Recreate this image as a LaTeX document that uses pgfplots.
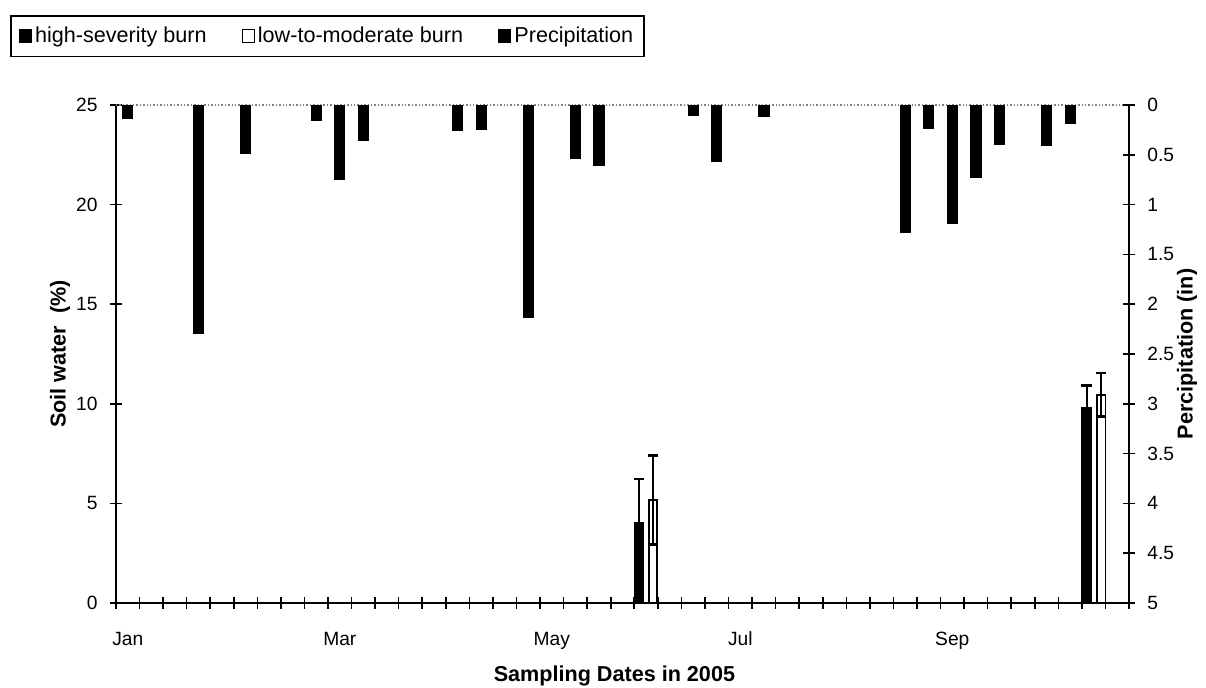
\documentclass[border=0pt]{standalone}
\usepackage{pgfplots}
\pgfplotsset{compat=1.18}
\usepackage{fontspec}
\setmainfont{Liberation Sans}
\begin{document}
\begin{tikzpicture}
\pgfplotsset{
  every tick label/.append style={font=\fontsize{9.6}{11}\selectfont},
  /pgf/number format/assume math mode=true,
}
\begin{axis}[
  name=main,
  scale only axis, width=506.5pt, height=249pt,
  xmin=0, xmax=43, ymin=0, ymax=25,
  axis x line=bottom, axis y line=left,
  axis line style={-, line width=0.9pt, black},
  tick align=center, major tick length=6pt, minor tick length=6pt,
  tick style={line width=0.8pt, black},
  xtick={0.5,9.5,18.5,26.5,35.5},
  xticklabels={Jan,Mar,May,Jul,Sep},
  major x tick style={draw=none},
  minor xtick={0,1,...,43},
  xticklabel style={yshift=-8pt},
  ytick={0,5,...,25},
  yticklabel style={inner xsep=0pt, xshift=-6pt},
  every axis x label/.style={at={(axis description cs:0.492,0)}, anchor=center, yshift=-36.5pt, font=\bfseries\fontsize{10.8}{12}\selectfont},
  every axis y label/.style={at={(axis description cs:-0.0553,0.5)}, anchor=center, rotate=90, font=\bfseries\fontsize{10.8}{12}\selectfont},
  xlabel={Sampling Dates in 2005},
  ylabel={Soil water \ (\%)},
  clip=false,
  legend columns=3,
  legend image code/.code={\draw[#1, line width=0.6pt] (0pt,-3.2pt) rectangle (6pt,3.2pt);},
  legend style={at={(axis description cs:-0.1046,1.1807)}, anchor=north west, draw=black, line width=0.8pt,
    font=\fontsize{10.8}{12}\selectfont, inner ysep=3.5pt, inner xsep=4pt,
    /tikz/every even column/.append style={column sep=16pt},
    nodes={inner xsep=1.5pt}},
]
\coordinate (bl) at (rel axis cs:0,0);
\coordinate (tr) at (rel axis cs:1,1);
\draw[gray, densely dotted, line width=0.7pt] (rel axis cs:0,1) -- (rel axis cs:1,1);
\addplot[ybar, bar width=0.4, bar shift=0pt, fill=black, draw=black,
  error bars/.cd, y dir=both, y explicit,
  error bar style={line width=1pt, black},
  error mark options={rotate=90, line width=1.4pt, mark size=2.6pt, black}]
  coordinates {(22.2,4.03) +- (0,2.19) (41.2,9.8) +- (0,1.1)};
\addlegendentry{high-severity burn}
\addplot[ybar, bar width=0.36, bar shift=0pt, fill=white, draw=black, line width=0.9pt,
  error bars/.cd, y dir=both, y explicit,
  error bar style={line width=1pt, black},
  error mark options={rotate=90, line width=1.4pt, mark size=2.6pt, black}]
  coordinates {(22.8,5.17) +- (0,2.23) (41.82,10.45) +- (0,1.1)};
\addlegendentry{low-to-moderate burn}
\addlegendimage{fill=black, draw=black}
\addlegendentry{Precipitation}
\end{axis}
\begin{axis}[
  scale only axis, width=506.5pt, height=249pt,
  xmin=0, xmax=43, ymin=0, ymax=5, y dir=reverse,
  axis x line=none, axis y line*=right,
  axis line style={-, line width=0.9pt, black},
  tick align=center, major tick length=6pt,
  tick style={line width=0.8pt, black},
  ytick={0,0.5,1,1.5,2,2.5,3,3.5,4,4.5,5},
  yticklabels={0,0.5,1,1.5,2,2.5,3,3.5,4,4.5,5},
  yticklabel style={inner xsep=0pt, xshift=6pt},
  every axis y label/.style={at={(axis description cs:1.0573,0.5)}, anchor=center, rotate=90, font=\bfseries\fontsize{10.8}{12}\selectfont},
  ylabel={Percipitation (in)},
]
\addplot[ybar, bar width=0.43, bar shift=0pt, fill=black, draw=black]
  coordinates {(0.5,0.13) (3.5,2.29) (5.5,0.49) (8.5,0.15) (9.5,0.75) (10.5,0.36)
  (14.5,0.25) (15.5,0.24) (17.5,2.13) (19.5,0.54) (20.5,0.61)
  (24.5,0.10) (25.5,0.57) (27.5,0.11)
  (33.5,1.28) (34.5,0.23) (35.5,1.19) (36.5,0.73) (37.5,0.40) (39.5,0.41) (40.5,0.18)};
\end{axis}
\pgfresetboundingbox
\path[use as bounding box] ([xshift=-58pt,yshift=-42.5pt]bl) rectangle ([xshift=38.5pt,yshift=52.5pt]tr);
\end{tikzpicture}
\end{document}
